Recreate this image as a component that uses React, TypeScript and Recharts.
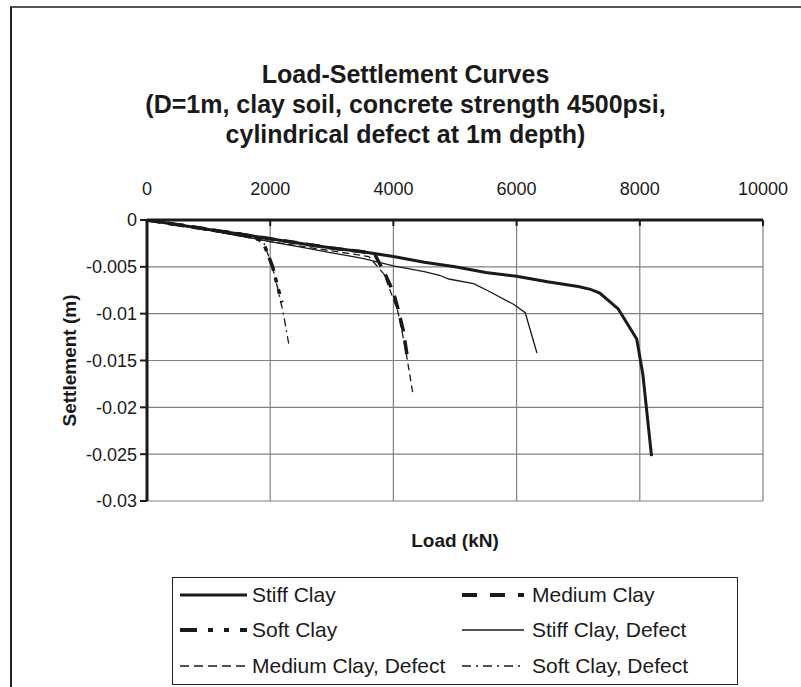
import React from "react";
import { LineChart, Line, XAxis, YAxis, CartesianGrid, Legend } from "recharts";

// load (kN) vs settlement (m)
const stiffClay = [
  { load: 0, s: 0 }, { load: 500, s: -0.0005 }, { load: 1000, s: -0.001 },
  { load: 1500, s: -0.0015 }, { load: 2000, s: -0.002 }, { load: 2500, s: -0.0025 },
  { load: 3000, s: -0.003 }, { load: 3500, s: -0.0034 }, { load: 4000, s: -0.0039 },
  { load: 4500, s: -0.0045 }, { load: 5000, s: -0.005 }, { load: 5500, s: -0.0056 },
  { load: 6000, s: -0.006 }, { load: 6500, s: -0.0066 }, { load: 7000, s: -0.0071 },
  { load: 7200, s: -0.0074 }, { load: 7350, s: -0.0078 }, { load: 7650, s: -0.0095 },
  { load: 7950, s: -0.0127 }, { load: 8050, s: -0.0165 }, { load: 8190, s: -0.0252 },
];

const mediumClay = [
  { load: 0, s: 0 }, { load: 500, s: -0.0005 }, { load: 1000, s: -0.001 },
  { load: 1500, s: -0.0015 }, { load: 2000, s: -0.002 }, { load: 2500, s: -0.0025 },
  { load: 3000, s: -0.003 }, { load: 3500, s: -0.0034 }, { load: 3700, s: -0.0037 },
  { load: 3860, s: -0.0057 }, { load: 4000, s: -0.0077 }, { load: 4080, s: -0.0096 },
  { load: 4160, s: -0.0118 }, { load: 4240, s: -0.0152 },
];

const softClay = [
  { load: 0, s: 0 }, { load: 500, s: -0.0005 }, { load: 1000, s: -0.001 },
  { load: 1500, s: -0.0015 }, { load: 1820, s: -0.0021 }, { load: 1900, s: -0.0026 },
  { load: 2040, s: -0.005 }, { load: 2120, s: -0.0071 }, { load: 2190, s: -0.0088 },
];

const stiffDefect = [
  { load: 0, s: 0 }, { load: 500, s: -0.0005 }, { load: 1000, s: -0.0011 },
  { load: 1500, s: -0.0017 }, { load: 2000, s: -0.0023 }, { load: 2500, s: -0.0029 },
  { load: 3000, s: -0.0035 }, { load: 3500, s: -0.0041 }, { load: 4000, s: -0.0049 },
  { load: 4500, s: -0.0055 }, { load: 4750, s: -0.0059 }, { load: 4900, s: -0.0063 },
  { load: 5300, s: -0.0068 }, { load: 5520, s: -0.0075 }, { load: 5950, s: -0.009 },
  { load: 6140, s: -0.0099 }, { load: 6330, s: -0.0142 },
];

const mediumDefect = [
  { load: 0, s: 0 }, { load: 1000, s: -0.0011 }, { load: 2000, s: -0.0023 },
  { load: 3000, s: -0.0033 }, { load: 3600, s: -0.0039 }, { load: 3850, s: -0.0058 },
  { load: 4070, s: -0.0097 }, { load: 4190, s: -0.0135 }, { load: 4320, s: -0.0187 },
];

const softDefect = [
  { load: 0, s: 0 }, { load: 1000, s: -0.0011 }, { load: 1800, s: -0.002 },
  { load: 1900, s: -0.0025 }, { load: 2040, s: -0.0051 }, { load: 2130, s: -0.0075 },
  { load: 2220, s: -0.0102 }, { load: 2300, s: -0.0132 },
];

const xTicks = [0, 2000, 4000, 6000, 8000, 10000];
const yTicks = [0, -0.005, -0.01, -0.015, -0.02, -0.025, -0.03];

const FONT = "'Liberation Sans', Arial, sans-serif";
const INK = "#1a1a1a";

const series = [
  { name: "Stiff Clay", data: stiffClay, width: 3, dash: undefined },
  { name: "Medium Clay", data: mediumClay, width: 3.5, dash: "14 9" },
  { name: "Soft Clay", data: softClay, width: 3.5, dash: "14 7 5 7 5 7" },
  { name: "Stiff Clay, Defect", data: stiffDefect, width: 1.3, dash: undefined },
  { name: "Medium Clay, Defect", data: mediumDefect, width: 1.3, dash: "7 4" },
  { name: "Soft Clay, Defect", data: softDefect, width: 1.3, dash: "8 4 2 4" },
];

const legendSample: Record<string, { w: number; dash?: string }> = {
  "Stiff Clay": { w: 3 },
  "Medium Clay": { w: 4, dash: "15 13" },
  "Soft Clay": { w: 4, dash: "17 11 5 11 5 11" },
  "Stiff Clay, Defect": { w: 1.3 },
  "Medium Clay, Defect": { w: 1.3, dash: "9 5" },
  "Soft Clay, Defect": { w: 1.3, dash: "9 5 2 5" },
};

function LegendBox() {
  return (
    <div
      style={{
        border: "1px solid #222",
        boxSizing: "border-box",
        width: 566,
        height: 108,
        display: "grid",
        gridTemplateColumns: "282px 270px",
        padding: "0 0 0 7px",
        fontFamily: FONT,
        fontSize: 21,
        color: INK,
      }}
    >
      {series.map((s, i) => {
        const st = legendSample[s.name];
        const left = i % 2 === 0;
        return (
          <div key={s.name} style={{ display: "flex", alignItems: "center", height: 34 }}>
            <svg width={left ? 67 : 62} height={12} style={{ flex: "none" }}>
              <line x1={0} y1={6} x2={left ? 67 : 62} y2={6} stroke={INK} strokeWidth={st.w} strokeDasharray={st.dash} />
            </svg>
            <span style={{ marginLeft: left ? 5 : 8 }}>{s.name}</span>
          </div>
        );
      })}
    </div>
  );
}

export default function App() {
  return (
    <div
      style={{
        position: "absolute",
        left: 0,
        top: 0,
        width: 801,
        height: 687,
        background: "#fff",
        fontFamily: FONT,
        overflow: "hidden",
      }}
    >
      <div
        style={{
          position: "absolute",
          left: 10,
          top: 6,
          width: 800,
          height: 700,
          borderTop: "2px solid #555",
          borderLeft: "2px solid #222",
        }}
      />
      <div
        style={{
          position: "absolute",
          left: 10,
          top: 59,
          width: 791,
          textAlign: "center",
          fontWeight: "bold",
          fontSize: 25,
          lineHeight: "30px",
          color: INK,
        }}
      >
        Load-Settlement Curves
        <br />
        (D=1m, clay soil, concrete strength 4500psi,
        <br />
        cylindrical defect at 1m depth)
      </div>
      <LineChart
        width={801}
        height={687}
        margin={{ top: 180, right: 38, left: 57, bottom: 108 }}
        style={{ position: "absolute", left: 0, top: 0 }}
      >
        <CartesianGrid stroke="#808080" strokeWidth={1.2} />
        <XAxis
          type="number"
          dataKey="load"
          orientation="top"
          height={40}
          domain={[0, 10000]}
          ticks={xTicks}
          allowDataOverflow
          axisLine={{ stroke: INK, strokeWidth: 3 }}
          tickLine={{ stroke: INK, strokeWidth: 2 }}
          tickSize={-6}
          tickMargin={31}
          tick={{ fontSize: 18, fill: INK }}
        />
        <XAxis
          xAxisId="lbl"
          type="number"
          orientation="bottom"
          height={78}
          domain={[0, 10000]}
          axisLine={false}
          tickLine={false}
          tick={false}
          label={{ value: "Load (kN)", position: "center", fontSize: 19, fontWeight: "bold", fill: INK }}
        />
        <YAxis
          type="number"
          dataKey="s"
          width={90}
          domain={[-0.03, 0]}
          ticks={yTicks}
          allowDataOverflow
          axisLine={{ stroke: INK, strokeWidth: 3 }}
          tickLine={{ stroke: INK, strokeWidth: 2 }}
          tickSize={7}
          tickMargin={3}
          tick={{ fontSize: 18, fill: INK }}
          label={{
            value: "Settlement (m)",
            angle: -90,
            position: "center",
            dx: -33,
            fontSize: 19,
            fontWeight: "bold",
            fill: INK,
          }}
        />
        {series.map((s) => (
          <Line
            key={s.name}
            name={s.name}
            data={s.data}
            dataKey="s"
            type="linear"
            stroke={INK}
            strokeWidth={s.width}
            strokeDasharray={s.dash}
            dot={false}
            activeDot={false}
            isAnimationActive={false}
          />
        ))}
        <Legend
          layout="horizontal"
          verticalAlign="middle"
          wrapperStyle={{ left: 172, top: 577, width: 566, height: 108 }}
          content={() => <LegendBox />}
        />
      </LineChart>
    </div>
  );
}
